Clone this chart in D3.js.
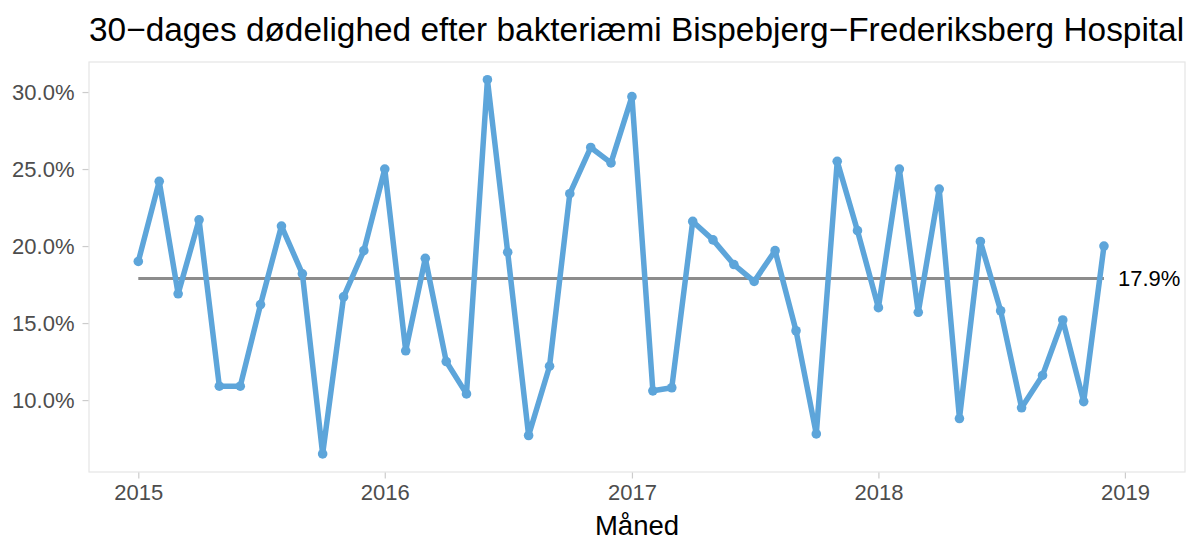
<!DOCTYPE html>
<html>
<head>
<meta charset="utf-8">
<title>30-dages dødelighed</title>
<style>
body { margin: 0; background: #fff; }
svg { display: block; font-family: 'Liberation Sans', Arial, sans-serif; }
.tick text { fill: #4d4d4d; font-size: 22px; }
.tick line { stroke: #cccccc; }
.domain { display: none; }
</style>
</head>
<body>
<svg></svg>
<script src="https://d3js.org/d3.v7.min.js"></script>
<script>
// monthly values, Jan 2015 .. Dec 2018 (percent)
const months = d3.utcMonths(new Date(Date.UTC(2015, 0, 1)), new Date(Date.UTC(2019, 0, 1)));
const mortality = [
  19.0, 24.2, 16.9, 21.7, 10.9, 10.9, 16.2, 21.3, 18.2, 6.5, 16.7, 19.7,
  25.0, 13.2, 19.2, 12.5, 10.4, 30.8, 19.6, 7.7, 12.2, 23.4, 26.4, 25.4,
  29.7, 10.6, 10.8, 21.6, 20.4, 18.8, 17.7, 19.7, 14.5, 7.8, 25.5, 21.0,
  16.0, 25.0, 15.7, 23.7, 8.8, 20.3, 15.8, 9.5, 11.6, 15.2, 9.9, 20.0
];
const centre = 17.9;
const yTicks = [10, 15, 20, 25, 30];
const xTicks = [2015, 2016, 2017, 2018, 2019];
const title = '30\u2212dages dødelighed efter bakteriæmi Bispebjerg\u2212Frederiksberg Hospital';
const xTitle = 'Måned';

const W = 1195, H = 541;
const panel = { left: 89, right: 1185, top: 62, bottom: 472 };

const data = months.map((m, i) => ({ date: m, value: mortality[i] }));

const svg = d3.select('svg').attr('width', W).attr('height', H);

const x = d3.scaleUtc()
  .domain([new Date(Date.UTC(2014, 9, 20)), new Date(Date.UTC(2019, 2, 31))])
  .range([panel.left, panel.right]);
const y = d3.scaleLinear()
  .domain([5.33, 31.95])
  .range([panel.bottom, panel.top]);

// panel border
svg.append('rect')
  .attr('x', panel.left).attr('y', panel.top)
  .attr('width', panel.right - panel.left).attr('height', panel.bottom - panel.top)
  .attr('fill', 'none').attr('stroke', '#e5e5e5').attr('stroke-width', 1.2);

svg.append('g')
  .attr('transform', `translate(${panel.left - 0.5},0)`)
  .call(d3.axisLeft(y).tickValues(yTicks).tickFormat(d => d.toFixed(1) + '%').tickSize(6).tickPadding(8))
  .call(g => g.selectAll('.tick line').attr('stroke-width', 1.2));

svg.append('g')
  .attr('transform', `translate(0,${panel.bottom + 0.5})`)
  .call(d3.axisBottom(x).tickValues(xTicks.map(yr => new Date(Date.UTC(yr, 0, 1))))
    .tickFormat(d3.utcFormat('%Y')).tickSize(6).tickPadding(6))
  .call(g => g.selectAll('.tick line').attr('stroke-width', 1.2));

// centre line
svg.append('line')
  .attr('x1', x(data[0].date)).attr('x2', x(data[data.length - 1].date))
  .attr('y1', y(centre)).attr('y2', y(centre))
  .attr('stroke', '#8c8c8c').attr('stroke-width', 3);

svg.append('text')
  .attr('x', x(data[data.length - 1].date) + 14)
  .attr('y', y(centre))
  .attr('dy', '0.35em')
  .attr('font-size', 22)
  .attr('fill', '#000')
  .text(centre.toFixed(1) + '%');

const line = d3.line().x(d => x(d.date)).y(d => y(d.value));

svg.append('path')
  .attr('d', line(data))
  .attr('fill', 'none')
  .attr('stroke', '#5da5da')
  .attr('stroke-width', 5.5)
  .attr('stroke-linejoin', 'round');

svg.append('g').selectAll('circle')
  .data(data)
  .join('circle')
  .attr('cx', d => x(d.date))
  .attr('cy', d => y(d.value))
  .attr('r', 4.8)
  .attr('fill', '#5da5da');

svg.append('text')
  .attr('x', panel.left)
  .attr('y', 41)
  .attr('font-size', 33.4)
  .attr('fill', '#000')
  .text(title);

svg.append('text')
  .attr('x', (panel.left + panel.right) / 2)
  .attr('y', 535)
  .attr('text-anchor', 'middle')
  .attr('font-size', 27.5)
  .attr('fill', '#000')
  .text(xTitle);
</script>
</body>
</html>
